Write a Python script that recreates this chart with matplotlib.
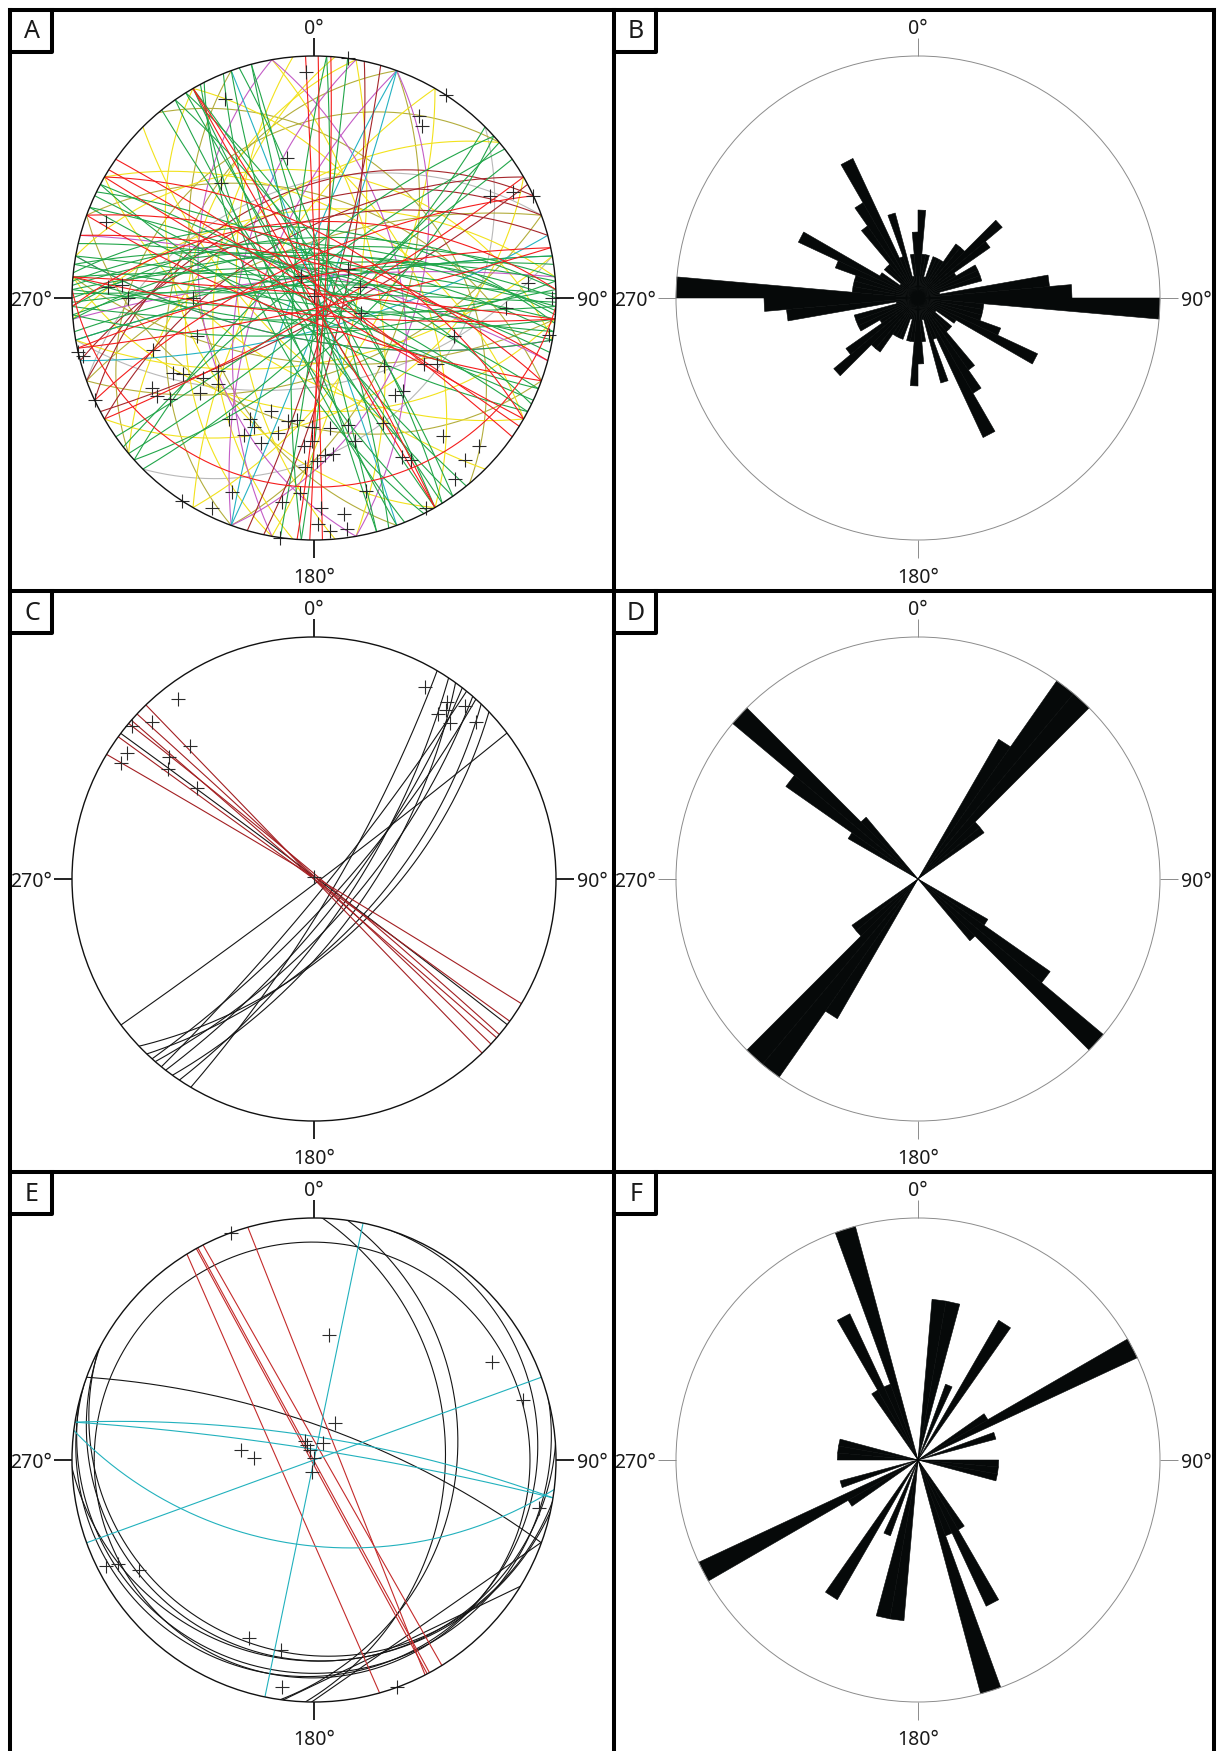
import numpy as np
import matplotlib
matplotlib.use("Agg")
import matplotlib.pyplot as plt
from matplotlib.patches import Circle, Polygon

plt.rcParams["font.family"] = ["Noto Sans", "DejaVu Sans"]

W, H, DPI = 1218, 1751, 100

# ---------------------------------------------------------------- panel A
# great circles as (strike, dip), right-hand rule
A_GREEN = [(268, 62), (270, 70), (272, 76), (275, 81), (265, 67), (278, 72), (262, 79),
           (280, 86), (274, 65), (269, 84), (276, 58), (271, 88), (266, 74), (283, 77),
           (260, 82), (273, 69), (88, 80), (92, 84), (95, 77), (98, 87), (86, 73),
           (100, 70), (112, 82), (118, 76), (292, 80), (296, 72), (115, 88), (298, 84),
           (145, 80), (150, 85), (152, 72), (148, 88), (325, 78), (330, 83), (153, 66),
           (328, 75), (141, 82), (160, 80), (165, 86), (158, 74), (342, 80), (345, 88),
           (45, 76), (50, 82), (228, 72), (55, 86), (232, 80), (48, 68), (3, 84),
           (183, 80), (8, 88)]
A_RED = [(1, 88), (358, 89), (4, 85), (302, 87), (305, 84), (120, 88), (78, 85), (258, 80),
         (285, 74), (290, 68), (110, 79), (95, 82), (275, 88), (60, 83), (245, 72),
         (330, 86), (150, 89), (92, 14), (300, 62), (268, 55)]
A_DARKRED = [(250, 48), (255, 55), (245, 42), (62, 80), (240, 60), (12, 76), (16, 82)]
A_YELLOW = [(185, 45), (175, 55), (190, 35), (95, 40), (280, 35), (300, 50), (120, 55),
            (30, 60), (210, 65), (330, 45), (60, 40), (150, 35), (265, 50), (10, 70),
            (80, 60), (230, 45), (350, 60), (135, 65)]
A_OLIVE = [(200, 30), (110, 35), (290, 45), (20, 50), (160, 40), (250, 65), (70, 55),
           (320, 30), (95, 60), (230, 22)]
A_MAGENTA = [(190, 55), (170, 40), (20, 45), (265, 80), (285, 78), (200, 65), (350, 50),
             (100, 70)]
A_CYAN = [(20, 85), (200, 80), (75, 75), (340, 88), (260, 82)]
A_GREY = [(250, 40), (80, 50), (45, 30)]
# poles as (trend, plunge)
A_POLES = [(8, 0), (358, 4), (336, 6), (33, 0), (30, 8), (32, 10), (349, 29), (321, 27),
           (60, 10), (62, 4), (65, 0), (290, 5), (274, 13), (273, 9), (270, 15), (270, 37),
           (328, 78), (0, 89), (49, 69), (77, 68), (86, 7), (90, 1), (93, 13), (99, 1),
           (105, 28), (108, 67), (252, 36), (252, 20), (257, 0), (134, 46), (121, 34),
           (118, 30), (240, 26), (234, 31), (228, 34), (241, 15), (238, 15), (235, 18),
           (245, 0), (230, 27), (140, 35), (136, 34), (215, 27), (208, 31), (205, 29),
           (207, 25), (200, 25), (201, 37), (195, 30), (188, 36), (181, 34), (173, 33),
           (165, 33), (164, 27), (181, 29), (184, 27), (176, 24), (173, 24), (183, 20),
           (179, 22), (151, 29), (151, 16), (149, 14), (137, 14), (137, 5), (132, 5),
           (142, 3), (203, 8), (206, 2), (213, 0), (189, 9), (184, 12), (178, 8), (179, 4),
           (176, 2), (172, 6), (172, 2), (165, 11), (188, 0), (152, 1), (256, 1), (242, 23),
           (192, 35), (233, 37)]

# ---------------------------------------------------------------- panel B
# strike counts in 5 degree bins from 0 to 180 (mirrored to 180-360)
B_COUNTS = [4, 2, 2, 1, 2, 2, 2, 3, 3, 5, 4, 2, 3, 3, 3, 1, 6, 7,
            11, 3, 3, 3, 4, 6, 2, 1, 2, 2, 4, 5, 7, 2, 4, 1, 2, 3]

# ---------------------------------------------------------------- panel C
C_BLACK = [(30.6, 80), (33.8, 72), (35.8, 66), (37.8, 75), (39.1, 84), (41, 70), (42, 78),
           (43.7, 62), (46.3, 60), (52.9, 88), (307, 89)]
C_RED = [(301, 89), (306, 90), (310, 88), (311, 90), (313, 89), (316, 90)]
C_POLES = [(323, 4), (314, 4), (310, 1), (317, 16), (304, 4), (301, 4), (310, 14), (307, 16),
           (308, 27), (0, 89), (30, 5), (37, 5), (41, 3), (37, 9), (41, 9), (46, 4), (38, 7)]

# ---------------------------------------------------------------- panel E
E_BLACK_GC = [(290, 74), (2, 33), (8, 29)]
# cones as (axis trend, axis plunge, half apical angle)
E_BLACK_CONES = [(270, 89.5, 84), (0, 84.2, 88.6), (12.1, 81.5, 87.7), (333.4, 86.0, 87.2),
                 (18.4, 79.0, 88.4), (5.2, 77.9, 91.5), (334.4, 40, 130), (325.2, 39.2, 129.2)]
E_RED_CONES = [(66.3, 7.9, 97.9), (61.5, 0.6, 90.6), (61.4, 0.1, 90.1), (240.4, 2.3, 92.3),
               (248.4, 5.7, 95.7)]
E_CYAN_GC = [(11.7, 90), (70, 90), (279, 79), (279, 85), (97, 51)]
E_POLES = [(340, 0), (7, 35), (61, 10), (74, 6), (29, 70), (278, 56), (272, 62), (336, 80),
           (334, 82), (335, 85), (0, 89), (29, 81), (191, 84), (102, 3), (243, 2), (242, 5),
           (238, 9), (200, 14), (190, 13), (188, 3), (160, 0)]

# ---------------------------------------------------------------- panel F
F_COUNTS = [0, 2, 2, 0, 1, 0, 2, 0, 0, 0, 0, 1, 3, 0, 1, 0, 0, 0,
            1, 1, 1, 0, 0, 0, 0, 0, 0, 0, 0, 1, 2, 1, 3, 0, 0, 0]

BIN = 5

# layout in pixels
COL_X = [10, 614]
ROW_Y = [10, 591, 1172]
PANEL_W, PANEL_H = 604, 581
CX, CY = 304, 288
RAD = 242
TICK = 18
BORDER_LW = 2.9
TEXT_C = "#1a1a1a"
ROSE_C = "#060909"


def direction(trend, plunge):
    t, p = np.radians(trend), np.radians(plunge)
    return np.array([np.sin(t) * np.cos(p), np.cos(t) * np.cos(p), -np.sin(p)])


def project(pts):
    x, y, z = pts
    with np.errstate(divide="ignore", invalid="ignore"):
        return x / (1 - z), y / (1 - z)


def small_circle(trend, plunge, half, n=1441):
    a = direction(trend, plunge)
    ref = np.array([0.0, 0.0, 1.0]) if abs(a[2]) < 0.95 else np.array([1.0, 0.0, 0.0])
    u = np.cross(a, ref)
    u /= np.linalg.norm(u)
    v = np.cross(a, u)
    phi = np.linspace(0, 2 * np.pi, n)
    h = np.radians(half)
    pts = np.cos(h) * a[:, None] + np.sin(h) * (np.outer(u, np.cos(phi)) + np.outer(v, np.sin(phi)))
    # start the trace in the upper hemisphere so the visible arc is one piece
    k = int(np.argmax(pts[2]))
    pts = np.roll(pts, -k, axis=1)
    x, y = project(pts)
    upper = pts[2] > 0.03
    x[upper] = np.nan
    y[upper] = np.nan
    return x, y


def great_circle(strike, dip):
    return small_circle(strike - 90, 90 - dip, 90)


def panel_axes(fig, col, row):
    x0, y0 = COL_X[col], ROW_Y[row]
    ax = fig.add_axes([x0 / W, 1 - (y0 + PANEL_H) / H, PANEL_W / W, PANEL_H / H])
    ax.set_xlim(-CX / RAD, (PANEL_W - CX) / RAD)
    ax.set_ylim(-(PANEL_H - CY) / RAD, CY / RAD)
    ax.set_aspect("auto")
    ax.axis("off")
    return ax


def frame(ax, colour, lw, tick_lw):
    prim = Circle((0, 0), 1, fill=False, ec=colour, lw=lw, zorder=6)
    ax.add_patch(prim)
    t = TICK / RAD
    for x0, y0, x1, y1 in [(0, 1, 0, 1 + t), (0, -1, 0, -1 - t), (-1, 0, -1 - t, 0), (1, 0, 1 + t, 0)]:
        ax.plot([x0, x1], [y0, y1], color=colour, lw=tick_lw, solid_capstyle="butt", zorder=6)
    kw = dict(fontsize=14, color=TEXT_C)
    ax.text(0, 1 + 22 / RAD, "0°", ha="center", va="baseline", **kw)
    ax.text(0, -1 - 43 / RAD, "180°", ha="center", va="baseline", **kw)
    ax.text(-1 - 20 / RAD, -8 / RAD, "270°", ha="right", va="baseline", **kw)
    ax.text(1 + 21 / RAD, -8 / RAD, "90°", ha="left", va="baseline", **kw)
    clip = Circle((0, 0), 1, transform=ax.transData)
    return clip


def draw_planes(ax, planes, colour, clip, lw=0.8):
    for s, d in planes:
        x, y = great_circle(s, d)
        ln, = ax.plot(x, y, color=colour, lw=lw, zorder=3)
        ln.set_clip_path(clip)


def draw_cones(ax, cones, colour, clip, lw=0.8):
    for t, p, h in cones:
        x, y = small_circle(t, p, h)
        ln, = ax.plot(x, y, color=colour, lw=lw, zorder=3)
        ln.set_clip_path(clip)


def draw_poles(ax, poles):
    xs, ys = [], []
    for t, p in poles:
        x, y = project(direction(t, p))
        xs.append(x)
        ys.append(y)
    ax.plot(xs, ys, ls="none", marker="+", ms=10, mew=0.8, color="#2a2a2a", zorder=5)


def draw_rose(ax, counts):
    counts = np.asarray(counts, dtype=float)
    r = counts / counts.max()
    for i, val in enumerate(r):
        if val <= 0:
            continue
        for off in (0, 180):
            t1 = np.radians(i * BIN + off)
            t2 = np.radians((i + 1) * BIN + off)
            poly = [(0, 0), (val * np.sin(t1), val * np.cos(t1)), (val * np.sin(t2), val * np.cos(t2))]
            ax.add_patch(Polygon(poly, closed=True, fc=ROSE_C, ec=ROSE_C, lw=0.4, zorder=3))


fig = plt.figure(figsize=(W / DPI, H / DPI), dpi=DPI)
fig.patch.set_facecolor("white")

# A: all planes
ax = panel_axes(fig, 0, 0)
clip = frame(ax, "#111111", 1.0, 1.3)
for planes, col in [(A_GREY, "#b8b8b8"), (A_OLIVE, "#b3ad3c"), (A_YELLOW, "#f2e21c"),
                    (A_MAGENTA, "#c35cc6"), (A_CYAN, "#25b2c2"), (A_DARKRED, "#a5262b"),
                    (A_GREEN, "#22a64a"), (A_RED, "#f41c1c")]:
    draw_planes(ax, planes, col, clip)
draw_poles(ax, A_POLES)

# B: rose of A
ax = panel_axes(fig, 1, 0)
frame(ax, "#8c8c8c", 0.7, 0.7)
draw_rose(ax, B_COUNTS)

# C: two conjugate sets
ax = panel_axes(fig, 0, 1)
clip = frame(ax, "#111111", 1.0, 1.3)
draw_planes(ax, C_BLACK, "#151515", clip)
draw_planes(ax, C_RED, "#a31f22", clip)
draw_poles(ax, C_POLES)

# D: rose of C strikes
ax = panel_axes(fig, 1, 1)
frame(ax, "#8c8c8c", 0.7, 0.7)
c_strikes = np.mod([s for s, _ in C_BLACK + C_RED], 180)
d_counts, _ = np.histogram(c_strikes, bins=np.arange(0, 180 + BIN, BIN))
draw_rose(ax, d_counts)

# E
ax = panel_axes(fig, 0, 2)
clip = frame(ax, "#111111", 1.0, 1.3)
draw_planes(ax, E_BLACK_GC, "#151515", clip)
draw_cones(ax, E_BLACK_CONES, "#151515", clip)
draw_cones(ax, E_RED_CONES, "#c42b2b", clip)
draw_planes(ax, E_CYAN_GC, "#21b1bd", clip)
draw_poles(ax, E_POLES)

# F
ax = panel_axes(fig, 1, 2)
frame(ax, "#8c8c8c", 0.7, 0.7)
draw_rose(ax, F_COUNTS)

# panel borders and letter boxes
over = fig.add_axes([0, 0, 1, 1], zorder=10)
over.set_xlim(0, W)
over.set_ylim(H, 0)
over.axis("off")
over.patch.set_alpha(0)
right = COL_X[1] + 600
for x in COL_X + [right]:
    over.plot([x, x], [ROW_Y[0], H + 5], color="black", lw=BORDER_LW, solid_capstyle="projecting")
for y in ROW_Y:
    over.plot([COL_X[0], right], [y, y], color="black", lw=BORDER_LW, solid_capstyle="projecting")
letters = "ABCDEF"
for i, letter in enumerate(letters):
    x0, y0 = COL_X[i % 2], ROW_Y[i // 2]
    over.plot([x0, x0 + 42, x0 + 42], [y0 + 42, y0 + 42, y0], color="black", lw=BORDER_LW,
              solid_capstyle="projecting")
    over.text(x0 + 22, y0 + 22, letter, ha="center", va="center", fontsize=18, color=TEXT_C)

fig.savefig("out.png", dpi=DPI, facecolor="white")
